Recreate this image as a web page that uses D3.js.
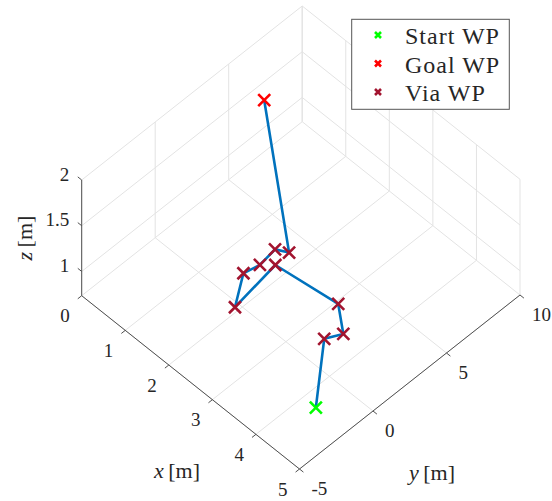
<!DOCTYPE html>
<html>
<head>
<meta charset="utf-8">
<script src="https://cdn.jsdelivr.net/npm/d3@7"></script>
<style>
  body { margin: 0; background: #fff; }
  text { font-family: "Liberation Serif", "Times New Roman", serif; fill: #262626; }
</style>
</head>
<body>
<svg id="chart" width="552" height="501"></svg>
<script>
// Waypoints in metres: start, via points in visiting order, goal
const startWP = { x: 4.65, y: -2.85, z: 1.0 };
const viaX = [3.88, 4.16, 3.80, 2.65, 2.27, 2.14, 2.34, 2.42, 2.76];
const viaY = [0.00, 0.47, 1.19, 0.32, -1.30, -0.34, 0.19, 0.98, 0.93];
const viaZ = [1.1, 1.2, 1.3, 1.4, 1.0, 1.2, 1.3, 1.4, 1.5];
const goalWP = { x: 0.93, y: 4.66, z: 2.0 };

// Axis ticks
const xTicks = [0, 1, 2, 3, 4, 5];
const yTicks = [-5, 0, 5, 10];
const zTicks = [1, 1.5, 2];
const legendLabels = ["Start WP", "Goal WP", "Via WP"];

const xLim = [0, 5], yLim = [-5, 10], zLim = [0.735, 2];

const colors = { start: "#00ff00", goal: "#ff0000", via: "#a2142f", path: "#0072bd",
                 grid: "#e3e3e3", axis: "#505050" };

const svg = d3.select("#chart");

// Each axis maps to a fraction of its edge of the plot box
const xs = d3.scaleLinear().domain(xLim).range([0, 1]);
const ys = d3.scaleLinear().domain(yLim).range([0, 1]);
const zs = d3.scaleLinear().domain(zLim).range([0, 1]);

// Screen-space edges of the box (orthographic view)
const origin = [81.7, 295.7];          // corner (x=0, y=-5, z=zmin)
const ex = [217.8, 173.3];             // full x edge
const ey = [220.5, -174.0];            // full y edge
const ez = [0, -115.7];                // full z edge

function proj(x, y, z) {
  const a = xs(x), b = ys(y), c = zs(z);
  return [origin[0] + a * ex[0] + b * ey[0] + c * ez[0],
          origin[1] + a * ex[1] + b * ey[1] + c * ez[1]];
}

const unit = v => { const l = Math.hypot(v[0], v[1]); return [v[0] / l, v[1] / l]; };

function seg(g, p, q, color, width) {
  g.append("line")
    .attr("x1", p[0]).attr("y1", p[1]).attr("x2", q[0]).attr("y2", q[1])
    .attr("stroke", color).attr("stroke-width", width);
}

// ---- grid: floor and the two back walls ----
const grid = svg.append("g");
const z0 = zLim[0], z1 = zLim[1];
xTicks.forEach(x => seg(grid, proj(x, yLim[0], z0), proj(x, yLim[1], z0), colors.grid, 1));
yTicks.forEach(y => seg(grid, proj(xLim[0], y, z0), proj(xLim[1], y, z0), colors.grid, 1));
// wall x = 0
yTicks.forEach(y => seg(grid, proj(0, y, z0), proj(0, y, z1), colors.grid, 1));
zTicks.forEach(z => seg(grid, proj(0, yLim[0], z), proj(0, yLim[1], z), colors.grid, 1));
// wall y = 10
xTicks.forEach(x => seg(grid, proj(x, yLim[1], z0), proj(x, yLim[1], z1), colors.grid, 1));
zTicks.forEach(z => seg(grid, proj(xLim[0], yLim[1], z), proj(xLim[1], yLim[1], z), colors.grid, 1));

// ---- axes ----
const axes = svg.append("g");
seg(axes, proj(0, -5, z0), proj(5, -5, z0), colors.axis, 1);
seg(axes, proj(5, -5, z0), proj(5, 10, z0), colors.axis, 1);
seg(axes, proj(0, -5, z0), proj(0, -5, z1), colors.axis, 1);

const tickLen = 5;
const dirX = unit([-ey[0], -ey[1]]);
const dirY = unit(ex);
const dirZ = unit([-ex[0], -ex[1]]);

xTicks.forEach(x => {
  const p = proj(x, -5, z0);
  seg(axes, p, [p[0] + dirX[0] * tickLen, p[1] + dirX[1] * tickLen], colors.axis, 1);
  axes.append("text").attr("x", p[0] - 12).attr("y", p[1] + 20)
    .attr("text-anchor", "end").attr("dominant-baseline", "central")
    .attr("font-size", 19).text(x);
});
yTicks.forEach(y => {
  const p = proj(5, y, z0);
  seg(axes, p, [p[0] + dirY[0] * tickLen, p[1] + dirY[1] * tickLen], colors.axis, 1);
  axes.append("text").attr("x", p[0] + 12).attr("y", p[1] + 19)
    .attr("text-anchor", "start").attr("dominant-baseline", "central")
    .attr("font-size", 19).text(y);
});
zTicks.forEach(z => {
  const p = proj(0, -5, z);
  seg(axes, p, [p[0] + dirZ[0] * tickLen, p[1] + dirZ[1] * tickLen], colors.axis, 1);
  axes.append("text").attr("x", p[0] - 12.5).attr("y", p[1] - 6)
    .attr("text-anchor", "end").attr("dominant-baseline", "central")
    .attr("font-size", 19).text(z);
});

// axis titles
function axisTitle(sym, x, y, rot) {
  const t = axes.append("text").attr("x", x).attr("y", y)
    .attr("text-anchor", "middle").attr("dominant-baseline", "central")
    .attr("font-size", 22);
  if (rot) t.attr("transform", `rotate(${rot},${x},${y})`);
  t.append("tspan").attr("font-style", "italic").text(sym);
  t.append("tspan").text("\u2009[m]");
}
axisTitle("x", 177, 470);
axisTitle("y", 432, 472);
axisTitle("z", 23.5, 238, -90);

// ---- path and markers ----
const pts = [startWP]
  .concat(viaX.map((x, i) => ({ x, y: viaY[i], z: viaZ[i] })))
  .concat([goalWP]);

svg.append("path")
  .attr("d", d3.line()(pts.map(p => proj(p.x, p.y, p.z))))
  .attr("fill", "none").attr("stroke", colors.path)
  .attr("stroke-width", 2.6).attr("stroke-linejoin", "round");

function cross(g, c, half, color, w) {
  g.append("path")
    .attr("d", `M${c[0] - half},${c[1] - half}L${c[0] + half},${c[1] + half}M${c[0] - half},${c[1] + half}L${c[0] + half},${c[1] - half}`)
    .attr("stroke", color).attr("stroke-width", w).attr("fill", "none");
}

const marks = svg.append("g");
cross(marks, proj(startWP.x, startWP.y, startWP.z), 6, colors.start, 2.6);
cross(marks, proj(goalWP.x, goalWP.y, goalWP.z), 6, colors.goal, 2.6);
viaX.forEach((x, i) => cross(marks, proj(x, viaY[i], viaZ[i]), 6, colors.via, 2.6));

// ---- legend ----
const legend = svg.append("g");
legend.append("rect").attr("x", 351.7).attr("y", 19.3).attr("width", 157.6).attr("height", 90)
  .attr("fill", "#fff").attr("stroke", "#555").attr("stroke-width", 1);
const legendColors = [colors.start, colors.goal, colors.via];
legendLabels.forEach((lab, i) => {
  const cy = 35 + i * 28.5;
  cross(legend, [378, cy], 3, legendColors[i], 2.6);
  legend.append("text").attr("x", 405).attr("y", cy + 1)
    .attr("dominant-baseline", "central").attr("font-size", 24)
    .attr("letter-spacing", 1).text(lab);
});
</script>
</body>
</html>
